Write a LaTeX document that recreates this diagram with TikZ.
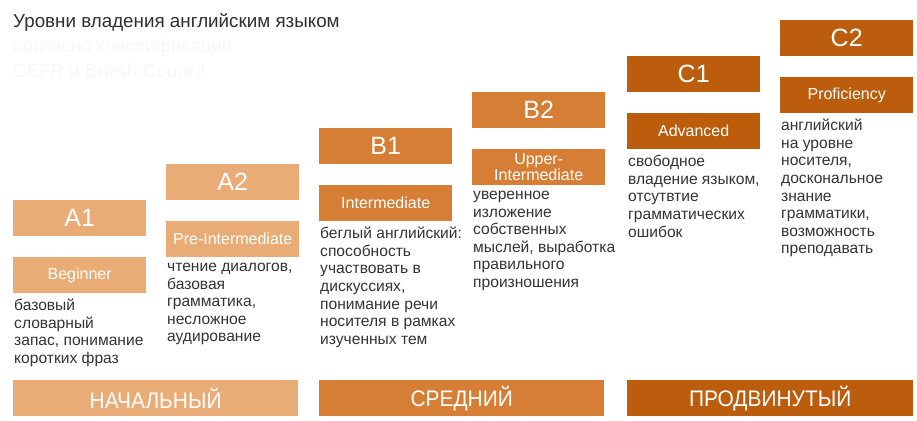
\documentclass[tikz,border=0pt]{standalone}
\usepackage{fontspec}
\setmainfont{Liberation Sans}
\newfontfamily\narrowfont[FakeStretch=0.93]{Liberation Sans}
\definecolor{cA}{HTML}{E9AC76}
\definecolor{cB}{HTML}{D67E35}
\definecolor{cC}{HTML}{BB5D0C}
\definecolor{txt}{HTML}{333333}
\definecolor{faint}{HTML}{F7F7F7}
\begin{document}
\begin{tikzpicture}[x=1pt,y=-1pt,
  lvl/.style={anchor=north west, minimum width=133, minimum height=36, inner sep=0, text=white, font=\fontsize{25}{30}\selectfont},
  sub/.style={anchor=north west, minimum width=133, minimum height=36, inner sep=0, text=white, align=center, font=\fontsize{16}{14.5}\selectfont},
  desc/.style={anchor=north west, inner sep=0, text=txt, align=left, font=\fontsize{15.6}{17.6}\selectfont},
  band/.style={anchor=north west, minimum width=285, minimum height=36, inner sep=0, text=white, font=\narrowfont\fontsize{22.5}{26}\selectfont},
]
\useasboundingbox (0,0) rectangle (917,420);
% title
\node[anchor=north west, inner sep=0, text=black!82, font=\fontsize{18.8}{22}\selectfont] (title) at (13,13) {Уровни владения английским языком};
\node[anchor=north west, inner sep=0, text=faint, align=left, font=\fontsize{18.8}{25}\selectfont] (subtitle) at (13,39) {согласно классификации\\CEFR и British Council};
% A1
\node[lvl, fill=cA] (a1) at (13,200) {A1};
\node[sub, fill=cA] (a1s) at (13,257) {Beginner};
\node[desc] (a1d) at (14,299) {базовый\\словарный\\запас, понимание\\коротких фраз};
% A2
\node[lvl, fill=cA] (a2) at (166,164) {A2};
\node[sub, fill=cA] (a2s) at (166,221) {Pre-Intermediate};
\node[desc] (a2d) at (167,263) {чтение диалогов,\\базовая\\грамматика,\\несложное\\аудирование};
% B1
\node[lvl, fill=cB] (b1) at (319,128) {B1};
\node[sub, fill=cB] (b1s) at (319,185) {Intermediate};
\node[desc] (b1d) at (320,227) {беглый английский:\\способность\\участвовать в\\дискуссиях,\\понимание речи\\носителя в рамках\\изученных тем};
% B2
\node[lvl, fill=cB] (b2) at (472,92) {B2};
\node[sub, fill=cB, text depth=0pt] (b2s) at (472,149) {Upper-\\Intermediate};
\node[desc] (b2d) at (473,191) {уверенное\\изложение\\собственных\\мыслей, выработка\\правильного\\произношения};
% C1
\node[lvl, fill=cC] (c1) at (627,56) {C1};
\node[sub, fill=cC] (c1s) at (627,113) {Advanced};
\node[desc] (c1d) at (628,155) {свободное\\владение языком,\\отсутвтие\\грамматических\\ошибок};
% C2
\node[lvl, fill=cC] (c2) at (780,20) {C2};
\node[sub, fill=cC] (c2s) at (780,77) {Proficiency};
\node[desc] (c2d) at (781,119) {английский\\на уровне\\носителя,\\доскональное\\знание\\грамматики,\\возможность\\преподавать};
% bands
\node[band, fill=cA] (bandA) at (13,380) {НАЧАЛЬНЫЙ};
\node[band, fill=cB] (bandB) at (319,380) {СРЕДНИЙ};
\node[band, fill=cC, minimum width=286] (bandC) at (627,380) {ПРОДВИНУТЫЙ};
\end{tikzpicture}
\end{document}
